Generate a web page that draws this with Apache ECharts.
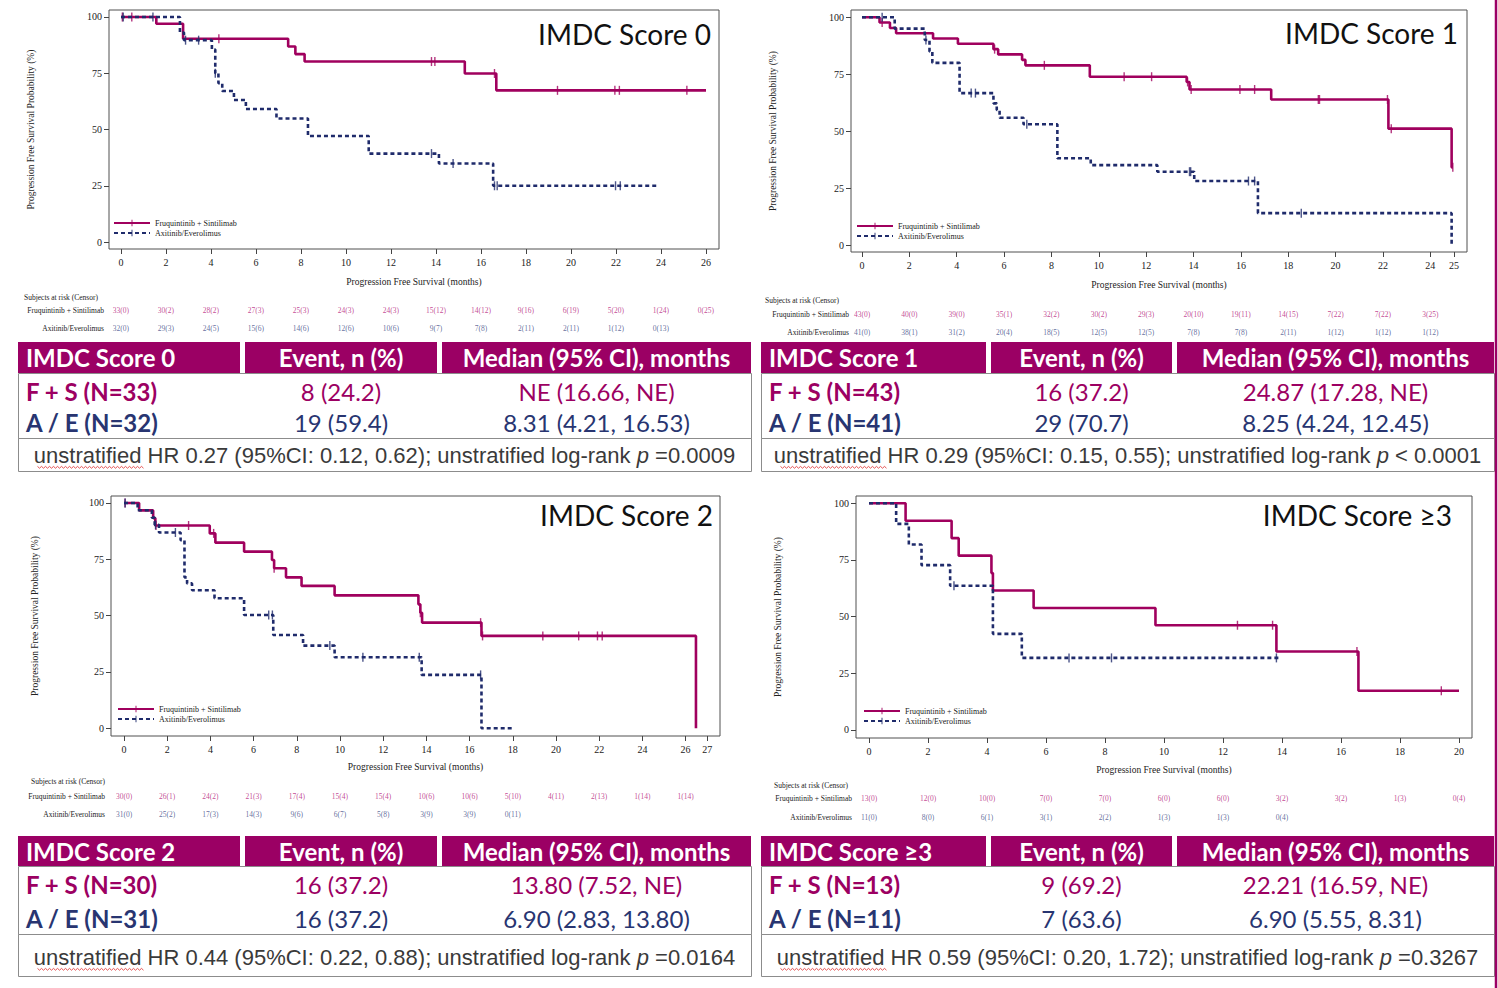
<!DOCTYPE html>
<html>
<head>
<meta charset="utf-8">
<title>PFS by IMDC score</title>
<script src="https://cdn.jsdelivr.net/npm/echarts@6/dist/echarts.min.js"></script>
<style>
  html, body { margin: 0; padding: 0; background: #fff; }
  #chart { width: 1498px; height: 988px; }
</style>
</head>
<body>
<div id="chart"></div>
<script>
// ---------------- data ----------------
const armNames = ['Fruquintinib + Sintilimab', 'Axitinib/Everolimus'];

// IMDC score 0
const s0_ticks = [0, 2, 4, 6, 8, 10, 12, 14, 16, 18, 20, 22, 24, 26];
const s0_fs_time = [0, 1.57, 2.76, 7.43, 7.75, 8.16, 15.28, 16.68, 26.0];
const s0_fs_surv = [100, 97.0, 90.3, 86.9, 83.5, 80.2, 74.9, 67.4, 67.4];
const s0_fs_cens = [0.06, 0.48, 4.35, 13.8, 13.95, 16.6, 19.4, 21.95, 22.15, 25.15];
const s0_ae_time = [0, 2.62, 2.8, 4.04, 4.19, 4.33, 4.5, 5.02, 5.55, 6.91, 8.31, 11.01, 14.13, 16.54, 23.9];
const s0_ae_surv = [100, 93.1, 89.7, 85.5, 75.0, 70.6, 67.1, 63.1, 59.1, 54.9, 47.1, 39.3, 34.9, 25.0, 25.0];
const s0_ae_cens = [0.1, 1.42, 2.87, 3.45, 4.19, 13.8, 14.76, 16.6, 16.72, 21.98, 22.19];
const s0_risk_t = [0, 2, 4, 6, 8, 10, 12, 14, 16, 18, 20, 22, 24, 26];
const s0_risk_fs = ['33(0)', '30(2)', '28(2)', '27(3)', '25(3)', '24(3)', '24(3)', '15(12)', '14(12)', '9(16)', '6(19)', '5(20)', '1(24)', '0(25)'];
const s0_risk_ae = ['32(0)', '29(3)', '24(5)', '15(6)', '14(6)', '12(6)', '10(6)', '9(7)', '7(8)', '2(11)', '2(11)', '1(12)', '0(13)'];

// IMDC score 1
const s1_ticks = [0, 2, 4, 6, 8, 10, 12, 14, 16, 18, 20, 22, 24, 25];
const s1_fs_time = [0, 0.74, 1.18, 1.44, 3.0, 4.05, 5.55, 5.75, 6.76, 6.9, 9.62, 13.71, 13.83, 17.28, 22.23, 24.9, 24.95];
const s1_fs_surv = [100, 97.7, 95.3, 93.0, 90.7, 88.4, 86.0, 83.7, 81.3, 78.9, 73.9, 71.6, 68.3, 63.9, 51.1, 34.1, 34.1];
const s1_fs_cens = [0.85, 5.6, 7.7, 11.07, 12.23, 13.75, 13.9, 15.96, 16.58, 19.27, 19.32, 22.19, 22.35, 24.95];
const s1_ae_time = [0, 1.38, 2.65, 2.85, 2.97, 4.12, 5.55, 5.69, 5.81, 6.82, 8.25, 9.66, 12.47, 14.03, 16.72, 24.9];
const s1_ae_surv = [100, 95.0, 90.0, 85.0, 80.0, 66.7, 62.2, 59.3, 55.9, 53.0, 38.1, 35.1, 32.2, 28.1, 14.0, 0];
const s1_ae_cens = [0.85, 2.7, 4.61, 4.79, 6.96, 13.83, 13.88, 16.32, 16.58, 18.55];
const s1_risk_t = [0, 2, 4, 6, 8, 10, 12, 14, 16, 18, 20, 22, 24];
const s1_risk_fs = ['43(0)', '40(0)', '39(0)', '35(1)', '32(2)', '30(2)', '29(3)', '20(10)', '19(11)', '14(15)', '7(22)', '7(22)', '3(25)'];
const s1_risk_ae = ['41(0)', '38(1)', '31(2)', '20(4)', '18(5)', '12(5)', '12(5)', '7(8)', '7(8)', '2(11)', '1(12)', '1(12)', '1(12)'];

// IMDC score 2
const s2_ticks = [0, 2, 4, 6, 8, 10, 12, 14, 16, 18, 20, 22, 24, 26, 27];
const s2_fs_time = [0, 0.7, 1.35, 1.45, 3.97, 4.23, 5.56, 6.85, 6.95, 7.5, 8.22, 9.75, 13.63, 13.72, 13.8, 16.55, 26.48];
const s2_fs_surv = [100, 96.7, 93.3, 90.0, 86.5, 82.4, 78.4, 74.7, 71.0, 67.0, 63.2, 59.0, 55.0, 51.3, 46.9, 41.0, 0];
const s2_fs_cens = [0.05, 1.48, 2.99, 4.15, 6.95, 13.72, 16.51, 16.6, 19.39, 21.05, 21.92, 22.14];
const s2_ae_time = [0, 0.63, 1.29, 1.42, 1.62, 2.62, 2.8, 2.92, 3.15, 4.19, 5.56, 6.91, 8.29, 9.75, 13.78, 16.55, 17.99];
const s2_ae_surv = [100, 96.8, 93.5, 90.3, 86.9, 83.5, 67.0, 64.3, 61.3, 57.7, 50.3, 41.4, 36.7, 31.5, 23.7, 0, 0];
const s2_ae_cens = [0.05, 1.46, 2.38, 6.7, 6.87, 9.53, 11.06, 13.67, 16.51];
const s2_risk_t = [0, 2, 4, 6, 8, 10, 12, 14, 16, 18, 20, 22, 24, 26];
const s2_risk_fs = ['30(0)', '26(1)', '24(2)', '21(3)', '17(4)', '15(4)', '15(4)', '10(6)', '10(6)', '5(10)', '4(11)', '2(13)', '1(14)', '1(14)'];
const s2_risk_ae = ['31(0)', '25(2)', '17(3)', '14(3)', '9(6)', '6(7)', '5(8)', '3(9)', '3(9)', '0(11)'];

// IMDC score >=3
const s3_ticks = [0, 2, 4, 6, 8, 10, 12, 14, 16, 18, 20];
const s3_fs_time = [0, 1.24, 2.8, 3.04, 4.15, 4.2, 5.58, 9.71, 13.81, 16.59, 20.0];
const s3_fs_surv = [100, 92.3, 84.6, 76.9, 69.2, 61.5, 53.8, 46.2, 34.6, 17.3, 17.3];
const s3_fs_cens = [12.49, 13.68, 16.54, 19.4];
const s3_ae_time = [0, 0.92, 1.35, 1.78, 2.75, 4.2, 5.18, 13.94];
const s3_ae_surv = [100, 90.9, 81.8, 72.7, 63.6, 42.4, 31.8, 31.8];
const s3_ae_cens = [2.88, 6.78, 8.22, 13.81];
const s3_risk_t = [0, 2, 4, 6, 8, 10, 12, 14, 16, 18, 20];
const s3_risk_fs = ['13(0)', '12(0)', '10(0)', '7(0)', '7(0)', '6(0)', '6(0)', '3(2)', '3(2)', '1(3)', '0(4)'];
const s3_risk_ae = ['11(0)', '8(0)', '6(1)', '3(1)', '2(2)', '1(3)', '1(3)', '0(4)'];

// summary tables
const t0_head = ['IMDC Score 0', 'Event, n (%)', 'Median (95% CI), months'];
const t0_fs = ['F + S (N=33)', '8 (24.2)', 'NE (16.66, NE)'];
const t0_ae = ['A / E (N=32)', '19 (59.4)', '8.31 (4.21, 16.53)'];
const t0_note = ['unstratified HR 0.27 (95%CI: 0.12, 0.62); unstratified log-rank ', 'p', ' =0.0009'];
const t1_head = ['IMDC Score 1', 'Event, n (%)', 'Median (95% CI), months'];
const t1_fs = ['F + S (N=43)', '16 (37.2)', '24.87 (17.28, NE)'];
const t1_ae = ['A / E (N=41)', '29 (70.7)', '8.25 (4.24, 12.45)'];
const t1_note = ['unstratified HR 0.29 (95%CI: 0.15, 0.55); unstratified log-rank ', 'p', ' < 0.0001'];
const t2_head = ['IMDC Score 2', 'Event, n (%)', 'Median (95% CI), months'];
const t2_fs = ['F + S (N=30)', '16 (37.2)', '13.80 (7.52, NE)'];
const t2_ae = ['A / E (N=31)', '16 (37.2)', '6.90 (2.83, 13.80)'];
const t2_note = ['unstratified HR 0.44 (95%CI: 0.22, 0.88); unstratified log-rank ', 'p', ' =0.0164'];
const t3_head = ['IMDC Score \u22653', 'Event, n (%)', 'Median (95% CI), months'];
const t3_fs = ['F + S (N=13)', '9 (69.2)', '22.21 (16.59, NE)'];
const t3_ae = ['A / E (N=11)', '7 (63.6)', '6.90 (5.55, 8.31)'];
const t3_note = ['unstratified HR 0.59 (95%CI: 0.20, 1.72); unstratified log-rank ', 'p', ' =0.3267'];

// ---------------- styles ----------------
const MAG = '#a0005e';
const MAG_HEAD = '#9b0064';
const MAG_TXT = '#9c0062';
const MAG_RISK = '#b3167a';
const NAVY = '#1f2b6b';
const NAVY_TXT = '#283571';
const NAVY_RISK = '#3c4a86';
const SERIF = 'Liberation Serif';
// thin vertical tick centred in a square box (used for the legend marker)
const CENSOR = 'path://M0,0M10,10M4.3,0L5.7,0L5.7,10L4.3,10Z';

const panels = [
  { title: 'IMDC Score 0', ticks: s0_ticks, fs: [s0_fs_time, s0_fs_surv, s0_fs_cens], ae: [s0_ae_time, s0_ae_surv, s0_ae_cens], riskT: s0_risk_t, riskFs: s0_risk_fs, riskAe: s0_risk_ae },
  { title: 'IMDC Score 1', ticks: s1_ticks, fs: [s1_fs_time, s1_fs_surv, s1_fs_cens], ae: [s1_ae_time, s1_ae_surv, s1_ae_cens], riskT: s1_risk_t, riskFs: s1_risk_fs, riskAe: s1_risk_ae },
  { title: 'IMDC Score 2', ticks: s2_ticks, fs: [s2_fs_time, s2_fs_surv, s2_fs_cens], ae: [s2_ae_time, s2_ae_surv, s2_ae_cens], riskT: s2_risk_t, riskFs: s2_risk_fs, riskAe: s2_risk_ae },
  { title: 'IMDC Score \u22653', ticks: s3_ticks, fs: [s3_fs_time, s3_fs_surv, s3_fs_cens], ae: [s3_ae_time, s3_ae_surv, s3_ae_cens], riskT: s3_risk_t, riskFs: s3_risk_fs, riskAe: s3_risk_ae }
];

// placement of each panel (pixels) and axis extents matching the frame
const layout = [
  { frame: { left: 109, top: 10, width: 610, height: 239 }, xr: [-0.533, 26.578], yr: [-3.11, 103.11],
    risk: { top: 301, height: 36, margin: 5 }, subj: [24, 297], legend: [113, 219], title: [711, 34], yGap: 73, xGap: 28 },
  { frame: { left: 851, top: 10, width: 616, height: 242 }, xr: [-0.465, 25.549], yr: [-3.07, 103.2],
    risk: { top: 305, height: 36, margin: 2 }, subj: [765, 300], legend: [856, 222], title: [1458, 33], yGap: 73, xGap: 28 },
  { frame: { left: 111, top: 496, width: 609, height: 240 }, xr: [-0.602, 27.593], yr: [-3.42, 103.1],
    risk: { top: 787, height: 36, margin: 6 }, subj: [31, 781], legend: [117, 705], title: [713, 515], yGap: 71, xGap: 26 },
  { frame: { left: 856, top: 496, width: 616, height: 242 }, xr: [-0.441, 20.44], yr: [-3.53, 103.2],
    risk: { top: 789, height: 38, margin: 4 }, subj: [774, 785], legend: [863, 707], title: [1452, 515], yGap: 73, xGap: 27 }
];

const tables = [
  { head: t0_head, fs: t0_fs, ae: t0_ae, note: t0_note },
  { head: t1_head, fs: t1_fs, ae: t1_ae, note: t1_note },
  { head: t2_head, fs: t2_fs, ae: t2_ae, note: t2_note },
  { head: t3_head, fs: t3_fs, ae: t3_ae, note: t3_note }
];
const tableBoxes = [
  { x0: 18, x1: 751, gaps: [[240, 245], [437, 442]], headTop: 342, headBot: 373, row1: 391, row2: 422, bodyBot: 438, note: 455, footBot: 471 },
  { x0: 761, x1: 1494, gaps: [[986, 991], [1172, 1177]], headTop: 342, headBot: 373, row1: 391, row2: 422, bodyBot: 438, note: 455, footBot: 471 },
  { x0: 18, x1: 751, gaps: [[240, 245], [437, 442]], headTop: 836, headBot: 866, row1: 884, row2: 918, bodyBot: 934, note: 957, footBot: 976 },
  { x0: 761, x1: 1494, gaps: [[986, 991], [1172, 1177]], headTop: 836, headBot: 866, row1: 884, row2: 918, bodyBot: 934, note: 957, footBot: 976 }
];

// survival value of a KM step function at time t (value right after any drop at t)
function stepAt(times, surv, t) {
  let v = surv[0];
  for (let i = 0; i < times.length; i++) {
    if (times[i] <= t + 1e-9) v = surv[i];
  }
  return v;
}
function zip(times, surv) {
  return times.map((t, i) => [t, surv[i]]);
}

const option = {
  animation: false,
  backgroundColor: '#ffffff',
  textStyle: { fontFamily: SERIF },
  grid: [], xAxis: [], yAxis: [], series: [], legend: [], graphic: []
};

// plot grids
panels.forEach((p, i) => {
  const L = layout[i];
  option.grid.push(Object.assign({}, L.frame, {
    show: true, borderColor: '#505050', borderWidth: 1, backgroundColor: 'transparent',
    containLabel: false, outerBoundsMode: 'none'
  }));
  option.xAxis.push({
    type: 'value', gridIndex: i, min: L.xr[0], max: L.xr[1],
    name: 'Progression Free Survival (months)', nameLocation: 'middle', nameGap: L.xGap, nameMoveOverlap: false,
    nameTextStyle: { fontFamily: SERIF, fontSize: 9.5, color: '#222' },
    axisLine: { show: false, onZero: false }, splitLine: { show: false },
    axisTick: { show: true, length: 5, lineStyle: { color: '#444' }, customValues: p.ticks },
    axisLabel: { customValues: p.ticks, fontFamily: SERIF, fontSize: 10, color: '#222', margin: 8 }
  });
  option.yAxis.push({
    type: 'value', gridIndex: i, min: L.yr[0], max: L.yr[1],
    name: 'Progression Free Survival Probability (%)', nameLocation: 'middle', nameGap: L.yGap, nameRotate: 90,
    nameMoveOverlap: false,
    nameTextStyle: { fontFamily: SERIF, fontSize: 9.5, color: '#222' },
    axisLine: { show: false, onZero: false }, splitLine: { show: false },
    axisTick: { show: true, length: 5, lineStyle: { color: '#444' }, customValues: [0, 25, 50, 75, 100] },
    axisLabel: { customValues: [0, 25, 50, 75, 100], fontFamily: SERIF, fontSize: 10, color: '#222', margin: 7 }
  });

  option.series.push({
    type: 'line', name: armNames[0], xAxisIndex: i, yAxisIndex: i, step: 'end',
    data: zip(p.fs[0], p.fs[1]), symbol: CENSOR, symbolSize: 10,
    showSymbol: false, silent: true,
    lineStyle: { color: MAG, width: 2.6 }, itemStyle: { color: MAG }, z: 2
  });
  option.series.push({
    type: 'scatter', name: 'cens_fs_' + i, xAxisIndex: i, yAxisIndex: i, silent: true,
    data: p.fs[2].map(t => [t, stepAt(p.fs[0], p.fs[1], t)]),
    symbol: 'rect', symbolSize: [1.4, 9], itemStyle: { color: MAG }, z: 3
  });
  option.series.push({
    type: 'line', name: armNames[1], xAxisIndex: i, yAxisIndex: i, step: 'end',
    data: zip(p.ae[0], p.ae[1]), symbol: CENSOR, symbolSize: 10,
    showSymbol: false, silent: true,
    lineStyle: { color: NAVY, width: 2.6, type: [4, 3] }, itemStyle: { color: NAVY }, z: 4
  });
  option.series.push({
    type: 'scatter', name: 'cens_ae_' + i, xAxisIndex: i, yAxisIndex: i, silent: true,
    data: p.ae[2].map(t => [t, stepAt(p.ae[0], p.ae[1], t)]),
    symbol: 'rect', symbolSize: [1.4, 9], itemStyle: { color: NAVY }, z: 5
  });

  option.legend.push({
    left: L.legend[0], top: L.legend[1], orient: 'vertical', padding: 0,
    itemWidth: 36, itemHeight: 8, itemGap: 2, selectedMode: false,
    textStyle: { fontFamily: SERIF, fontSize: 8, color: '#222' },
    data: armNames
  });

  option.graphic.push({
    type: 'text', x: L.title[0], y: L.title[1], silent: true,
    style: { text: p.title, font: '28px Lato', fill: '#111', align: 'right', verticalAlign: 'middle' }
  });
});

// number-at-risk grids sharing each panel's time scale
panels.forEach((p, i) => {
  const L = layout[i];
  const g = 4 + i;
  option.grid.push({
    left: L.frame.left, width: L.frame.width, top: L.risk.top, height: L.risk.height,
    show: false, containLabel: false, outerBoundsMode: 'none'
  });
  option.xAxis.push({ type: 'value', gridIndex: g, min: L.xr[0], max: L.xr[1], show: false });
  option.yAxis.push({
    type: 'category', gridIndex: g, data: [armNames[1], armNames[0]],
    axisLine: { show: false, onZero: false }, axisTick: { show: false }, splitLine: { show: false },
    axisLabel: { fontFamily: SERIF, fontSize: 7.5, color: '#222', margin: L.risk.margin }
  });
  const rows = [[p.riskFs, armNames[0], MAG_RISK], [p.riskAe, armNames[1], NAVY_RISK]];
  rows.forEach(([vals, arm, col]) => {
    option.series.push({
      type: 'scatter', name: 'risk_' + i + '_' + arm, xAxisIndex: g, yAxisIndex: g, silent: true,
      symbolSize: 1, itemStyle: { color: 'rgba(0,0,0,0)' },
      label: { show: true, position: 'inside', fontFamily: SERIF, fontSize: 7.5, color: col },
      data: vals.map((txt, k) => ({ value: [p.riskT[k], arm], label: { formatter: txt } }))
    });
  });
  option.graphic.push({
    type: 'text', x: L.subj[0], y: L.subj[1], silent: true,
    style: { text: 'Subjects at risk (Censor)', font: '7.5px "Liberation Serif"', fill: '#222', verticalAlign: 'middle' }
  });
});

// summary tables
tables.forEach((t, i) => {
  const B = tableBoxes[i];
  const W = B.x1 - B.x0;
  const G = option.graphic;
  const c2 = (B.gaps[0][1] + B.gaps[1][0]) / 2;
  const c3 = (B.gaps[1][1] + B.x1) / 2;
  const hy = (B.headTop + B.headBot) / 2;
  G.push({ type: 'rect', silent: true, shape: { x: B.x0, y: B.headTop, width: W, height: B.headBot - B.headTop }, style: { fill: MAG_HEAD } });
  B.gaps.forEach(gp => G.push({ type: 'rect', silent: true, shape: { x: gp[0], y: B.headTop, width: gp[1] - gp[0], height: B.headBot - B.headTop }, style: { fill: '#fff' } }));
  G.push({ type: 'rect', silent: true, shape: { x: B.x0 + 0.5, y: B.headBot + 0.5, width: W, height: B.bodyBot - B.headBot }, style: { fill: 'none', stroke: '#8c8c8c', lineWidth: 1 } });
  G.push({ type: 'rect', silent: true, shape: { x: B.x0 + 0.5, y: B.bodyBot + 0.5, width: W, height: B.footBot - B.bodyBot }, style: { fill: 'none', stroke: '#8c8c8c', lineWidth: 1 } });

  G.push({ type: 'text', silent: true, x: B.x0 + 8, y: hy, style: { text: t.head[0], font: 'bold 24px Lato', fill: '#fff', verticalAlign: 'middle' } });
  G.push({ type: 'text', silent: true, x: c2, y: hy, style: { text: t.head[1], font: 'bold 24px Lato', fill: '#fff', align: 'center', verticalAlign: 'middle' } });
  G.push({ type: 'text', silent: true, x: c3, y: hy, style: { text: t.head[2], font: 'bold 24px Lato', fill: '#fff', align: 'center', verticalAlign: 'middle' } });

  [[t.fs, B.row1, MAG_TXT], [t.ae, B.row2, NAVY_TXT]].forEach(([row, y, col]) => {
    G.push({ type: 'text', silent: true, x: B.x0 + 8, y: y, style: { text: row[0], font: 'bold 24px Lato', fill: col, verticalAlign: 'middle' } });
    G.push({ type: 'text', silent: true, x: c2, y: y, style: { text: row[1], font: '24px Lato', fill: col, align: 'center', verticalAlign: 'middle' } });
    G.push({ type: 'text', silent: true, x: c3, y: y, style: { text: row[2], font: '24px Lato', fill: col, align: 'center', verticalAlign: 'middle' } });
  });

  const nf = '"Liberation Sans Narrow", "Liberation Sans", sans-serif';
  G.push({
    type: 'text', silent: true, x: (B.x0 + B.x1) / 2, y: B.note,
    style: {
      text: '{a|' + t.note[0] + '}{b|' + t.note[1] + '}{a|' + t.note[2] + '}',
      align: 'center', verticalAlign: 'middle',
      rich: {
        a: { fontFamily: nf, fontSize: 22, fill: '#3a3a3a' },
        b: { fontFamily: nf, fontSize: 22, fontStyle: 'italic', fill: '#3a3a3a' }
      }
    }
  });

  // red spell-check squiggle under the first word
  const sx0 = (B.x0 + B.x1) / 2 - 347, sx1 = sx0 + 106, sy = B.note + 12;
  const pts = [];
  for (let x = sx0, k = 0; x <= sx1; x += 2, k++) pts.push([x, sy + (k % 2 ? 1.2 : -0.6)]);
  G.push({ type: 'polyline', silent: true, shape: { points: pts }, style: { stroke: '#e04040', lineWidth: 0.9, fill: 'none' } });
});

// slide edge accent on the right
option.graphic.push({ type: 'line', silent: true, shape: { x1: 1496, y1: 0, x2: 1496, y2: 988 }, style: { stroke: MAG_HEAD, lineWidth: 2.5 } });

const chart = echarts.init(document.getElementById('chart'), null, { renderer: 'svg' });
chart.setOption(option);
</script>
</body>
</html>
